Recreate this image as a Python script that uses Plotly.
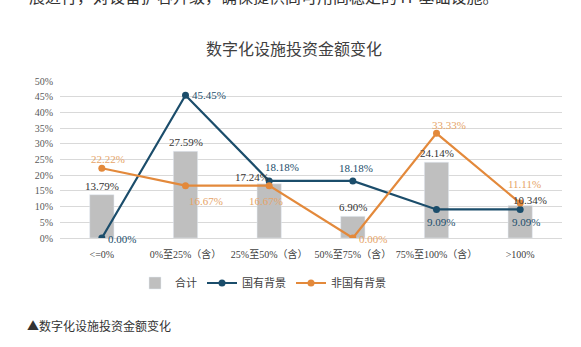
import plotly.graph_objects as go

categories = ["<=0%", "0%至25%（含）", "25%至50%（含）", "50%至75%（含）", "75%至100%（含）", ">100%"]
total = [13.79, 27.59, 17.24, 6.90, 24.14, 10.34]
state_owned = [0.00, 45.45, 18.18, 18.18, 9.09, 9.09]
non_state = [22.22, 16.67, 16.67, 0.00, 33.33, 11.11]
y_ticks = [0, 5, 10, 15, 20, 25, 30, 35, 40, 45, 50]

GRAY = "#BFBFBF"
BLUE = "#1B4D6B"
ORANGE = "#E3893B"
ORANGE_TXT = "#E6A468"
NUM_FONT = "Liberation Serif, Noto Sans CJK SC, serif"
CJK_FONT = "Noto Sans CJK SC, sans-serif"

fig = go.Figure()
fig.add_trace(go.Bar(x=categories, y=total, name="合计", marker_color=GRAY, width=0.29))
fig.add_trace(go.Scatter(x=categories, y=state_owned, name="国有背景", mode="lines+markers",
                         line=dict(color=BLUE, width=2.2), marker=dict(size=7, color=BLUE)))
fig.add_trace(go.Scatter(x=categories, y=non_state, name="非国有背景", mode="lines+markers",
                         line=dict(color=ORANGE, width=2.2), marker=dict(size=7, color=ORANGE)))

ann = []
# label offsets (pixels)
bar_off = [(0, 9), (0, 9), (-17, 7), (0, 9), (0, 9), (10, 6)]
blue_off = [(20, -1), (23, 0), (13, 14), (3, 13), (4, -13), (6, -13)]
orange_off = [(6, 9), (20, -15), (-3, -15), (20, -1), (12, 8), (4, 19)]
for i, c in enumerate(categories):
    ann.append(dict(x=c, y=total[i], text=f"{total[i]:.2f}%", showarrow=False,
                    xshift=bar_off[i][0], yshift=bar_off[i][1], font=dict(size=11, color="#333333", family=NUM_FONT)))
    ann.append(dict(x=c, y=state_owned[i], text=f"{state_owned[i]:.2f}%", showarrow=False,
                    xshift=blue_off[i][0], yshift=blue_off[i][1], font=dict(size=11, color=BLUE, family=NUM_FONT)))
    ann.append(dict(x=c, y=non_state[i], text=f"{non_state[i]:.2f}%", showarrow=False,
                    xshift=orange_off[i][0], yshift=orange_off[i][1], font=dict(size=11, color=ORANGE_TXT, family=NUM_FONT)))

ann.append(dict(xref="paper", yref="paper", x=(293.5 - 60) / 502, y=(238 - 48) / 157, text="数字化设施投资金额变化",
                showarrow=False, xanchor="center", yanchor="middle",
                font=dict(size=16, color="#404040", family=CJK_FONT)))
ann.append(dict(xref="paper", yref="paper", x=(25 - 60) / 502, y=(238 - 325) / 157, text="▲数字化设施投资金额变化",
                showarrow=False, xanchor="left", yanchor="middle",
                font=dict(size=12, color="#333333", family=CJK_FONT)))
ann.append(dict(xref="paper", yref="paper", x=(27 - 60) / 502, y=(238 + 4) / 157,
                text="展进行，对设备扩容升级，确保提供高可用高稳定的 IT 基础设施。",
                showarrow=False, xanchor="left", yanchor="middle",
                font=dict(size=16, color="#333333", family=CJK_FONT)))

fig.update_layout(
    width=581, height=347,
    margin=dict(l=60, r=19, t=81, b=109),
    paper_bgcolor="white", plot_bgcolor="white",
    showlegend=True,
    legend=dict(orientation="h", x=(263 - 60) / 502, y=(238 - 283) / 157, xanchor="center", yanchor="middle",
                font=dict(size=11, color="#404040", family=CJK_FONT), itemwidth=30, tracegroupgap=0),
    annotations=ann,
)
fig.update_yaxes(range=[0, 50], tickmode="array", tickvals=y_ticks, ticktext=[f"{v}%" for v in y_ticks],
                 showgrid=True, gridcolor="#D9D9D9",
                 gridwidth=1, zeroline=False, tickfont=dict(size=10, color="#595959", family=NUM_FONT),
                 ticks="", ticklabelstandoff=6)
fig.update_xaxes(showgrid=False, showline=True, linecolor="#D9D9D9", tickfont=dict(size=10, color="#404040", family=NUM_FONT),
                 ticks="", ticklabelstandoff=7)

fig.write_html("out.html")
